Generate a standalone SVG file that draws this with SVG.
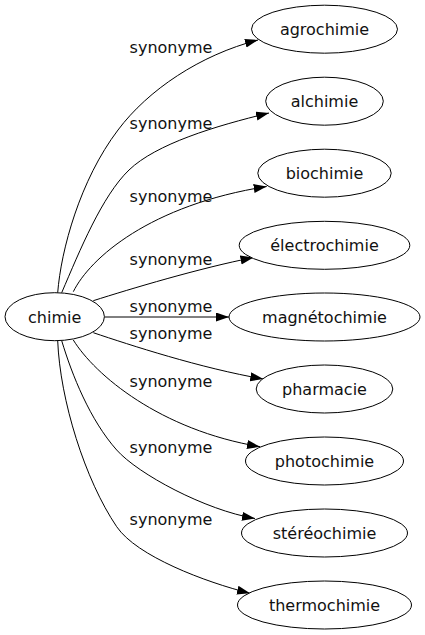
<svg xmlns="http://www.w3.org/2000/svg" width="425" height="635" viewBox="0 0 425 635">
<defs>
<marker id="arr" markerUnits="userSpaceOnUse" markerWidth="14" markerHeight="10" refX="13" refY="4.5" orient="auto">
<path d="M0,0 L13,4.5 L0,9 z" fill="#000"/>
</marker>
<style>
.node ellipse{fill:#fff;stroke:#000;stroke-width:1}
.node text{font-family:"DejaVu Sans",sans-serif;font-size:16px;text-anchor:middle;fill:#111}
.edge path{fill:none;stroke:#000;stroke-width:1;marker-end:url(#arr)}
.edge text{font-family:"DejaVu Sans",sans-serif;font-size:16px;text-anchor:middle;fill:#111}
</style>
</defs>
<rect width="425" height="635" fill="#fff"/>
<g id="edges" class="edge">
<path d="M57.7,292.7 C61,250 80,180 118,130 C148,90 200,55 258,40"/>
<text x="171" y="53">synonyme</text>
<path d="M61.7,292.7 C80,250 102,196 129,170 C156,144 215,126 269,113"/>
<text x="171" y="129">synonyme</text>
<path d="M73.3,291.7 C90,258 150,205 266.7,186.5"/>
<text x="171" y="201.5">synonyme</text>
<path d="M93.3,300.7 C130,289 200,268 253.5,257.5"/>
<text x="171" y="265">synonyme</text>
<path d="M104.5,317 L229,317"/>
<text x="171" y="311.5">synonyme</text>
<path d="M93.3,332.7 C130,345 200,368 263.3,379"/>
<text x="171" y="339">synonyme</text>
<path d="M73.3,340 C95,375 160,430 260,446.7"/>
<text x="171" y="386.5">synonyme</text>
<path d="M61.7,340.7 C72,375 90,420 116.7,450 C138,474 205,510 255,518.5"/>
<text x="171" y="453">synonyme</text>
<path d="M57.7,340.7 C60,400 85,480 116.7,526.7 C136.7,556.2 205,582 250,593.3"/>
<text x="171" y="525">synonyme</text>
</g>
<g id="chimie" class="node"><ellipse cx="54.7" cy="316.7" rx="49.7" ry="24"/><text x="54.7" y="322.7">chimie</text></g>
<g id="agrochimie" class="node"><ellipse cx="324.5" cy="29.2" rx="73" ry="24"/><text x="324.5" y="35.2">agrochimie</text></g>
<g id="alchimie" class="node"><ellipse cx="324.5" cy="101.2" rx="58.8" ry="24"/><text x="324.5" y="107.2">alchimie</text></g>
<g id="biochimie" class="node"><ellipse cx="324.5" cy="173.2" rx="66.7" ry="24"/><text x="324.5" y="179.2">biochimie</text></g>
<g id="electrochimie" class="node"><ellipse cx="324.5" cy="245.3" rx="85.3" ry="24"/><text x="324.5" y="251.3">électrochimie</text></g>
<g id="magnetochimie" class="node"><ellipse cx="324.5" cy="317" rx="95.5" ry="24"/><text x="324.5" y="323">magnétochimie</text></g>
<g id="pharmacie" class="node"><ellipse cx="324.5" cy="389" rx="68.3" ry="24"/><text x="324.5" y="395">pharmacie</text></g>
<g id="photochimie" class="node"><ellipse cx="324.5" cy="461" rx="79" ry="24"/><text x="324.5" y="467">photochimie</text></g>
<g id="stereochimie" class="node"><ellipse cx="324.5" cy="533" rx="83" ry="24"/><text x="324.5" y="539">stéréochimie</text></g>
<g id="thermochimie" class="node"><ellipse cx="324.5" cy="605" rx="87" ry="24"/><text x="324.5" y="611">thermochimie</text></g>
</svg>
